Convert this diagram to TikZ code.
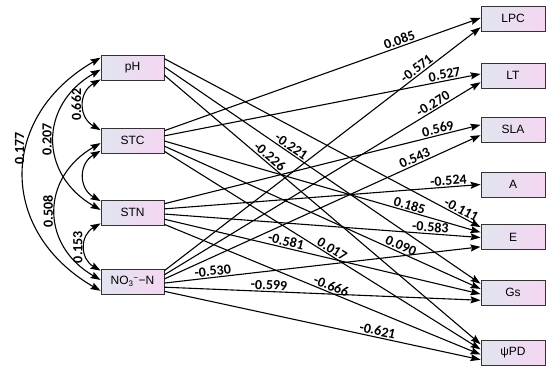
\documentclass[tikz,border=0pt]{standalone}
\usepackage{fontspec}
\setmainfont{Liberation Sans}
\newfontfamily\coeffont{Carlito}
\usepackage{tikz}
\usetikzlibrary{arrows.meta, calc}
\definecolor{BoxL}{HTML}{E1E5F0}
\definecolor{BoxR}{HTML}{F5D6F2}
\definecolor{Rim}{HTML}{333333}

\begin{document}
\begin{tikzpicture}[x=1pt, y=1pt, >={Stealth[length=10pt, width=7pt, inset=1.5pt]},
  var/.style={draw=Rim, line width=0.9pt, left color=BoxL, right color=BoxR,
    minimum width=63pt, minimum height=25pt, inner sep=0pt,
    font=\fontsize{12}{14}\selectfont},
  eff/.style={->, line width=1.1pt},
  cor/.style={<->, line width=1.1pt, out=210, in=150, looseness=1.3},
  coef/.style={font=\coeffont\bfseries\fontsize{14}{16}\selectfont,
    sloped, above, inner sep=1.2pt},
  corlab/.style={font=\coeffont\bfseries\fontsize{14}{16}\selectfont,
    rotate=90, anchor=south, inner sep=2pt}]
  \useasboundingbox (0,0) rectangle (550,-372);
  % soil variables
  \node[var] (pH) at (132.5,-67.5) {pH};
  \node[var] (STC) at (132.5,-140.5) {STC};
  \node[var] (STN) at (132.5,-212.5) {STN};
  \node[var] (NO) at (132.5,-281.5) {NO\textsubscript{3}\textsuperscript{−}−N};
  % leaf traits
  \foreach \nm/\txt/\y in {LPC/LPC/18.5, LT/LT/75.5, SLA/SLA/129.5, A/A/184.5,
      E/E/237, Gs/Gs/292.5, PD/ψPD/353}
    \node[var, minimum width=64pt] (\nm) at (513,-\y) {\txt};
  % paths
  \foreach \src/\a/\tgt/\b/\v/\p in {
      pH/.16/E/.12/-0.111/.93, pH/.48/Gs/.16/-0.221/.39, pH/.8/PD/.16/-0.226/.32,
      STC/.12/LPC/.48/0.085/.75, STC/.32/LT/.44/0.527/.89, STC/.52/E/.32/0.185/.77,
      STC/.72/Gs/.36/0.090/.74, STC/.92/PD/.36/0.017/.52,
      STN/.16/SLA/.32/0.569/.87, STN/.36/A/.5/-0.524/.9, STN/.56/E/.52/-0.583/.84,
      STN/.76/Gs/.56/-0.581/.38, STN/.96/PD/.56/-0.666/.52,
      NO/.08/LPC/.84/-0.571/.81, NO/.24/LT/.76/-0.270/.86, NO/.4/SLA/.72/0.543/.8,
      NO/.56/E/.88/-0.530/.155, NO/.72/Gs/.8/-0.599/.33, NO/.88/PD/.76/-0.621/.67}
    \draw[eff] ($(\src.north east)!\a!(\src.south east)$) --
      ($(\tgt.north west)!\b!(\tgt.south west)$) node[coef, pos=\p] {\v};
  % correlations
  \draw[cor] ($(pH.north west)!.96!(pH.south west)$) to
    node[corlab, midway] {0.662} ($(STC.north west)!.1!(STC.south west)$);
  \draw[cor] ($(STC.north west)!.9!(STC.south west)$) to
    ($(STN.north west)!.06!(STN.south west)$);
  \draw[cor] ($(STN.north west)!.92!(STN.south west)$) to
    node[corlab, midway] {0.153} ($(NO.north west)!.08!(NO.south west)$);
  \draw[cor] ($(pH.north west)!.58!(pH.south west)$) to
    node[corlab, midway] {0.207} ($(STN.north west)!.4!(STN.south west)$);
  \draw[cor] ($(STC.north west)!.6!(STC.south west)$) to
    node[corlab, midway] {0.508} ($(NO.north west)!.44!(NO.south west)$);
  \draw[cor] ($(pH.north west)!.12!(pH.south west)$) to
    node[corlab, pos=.4] {0.177} ($(NO.north west)!.86!(NO.south west)$);
\end{tikzpicture}
\end{document}
